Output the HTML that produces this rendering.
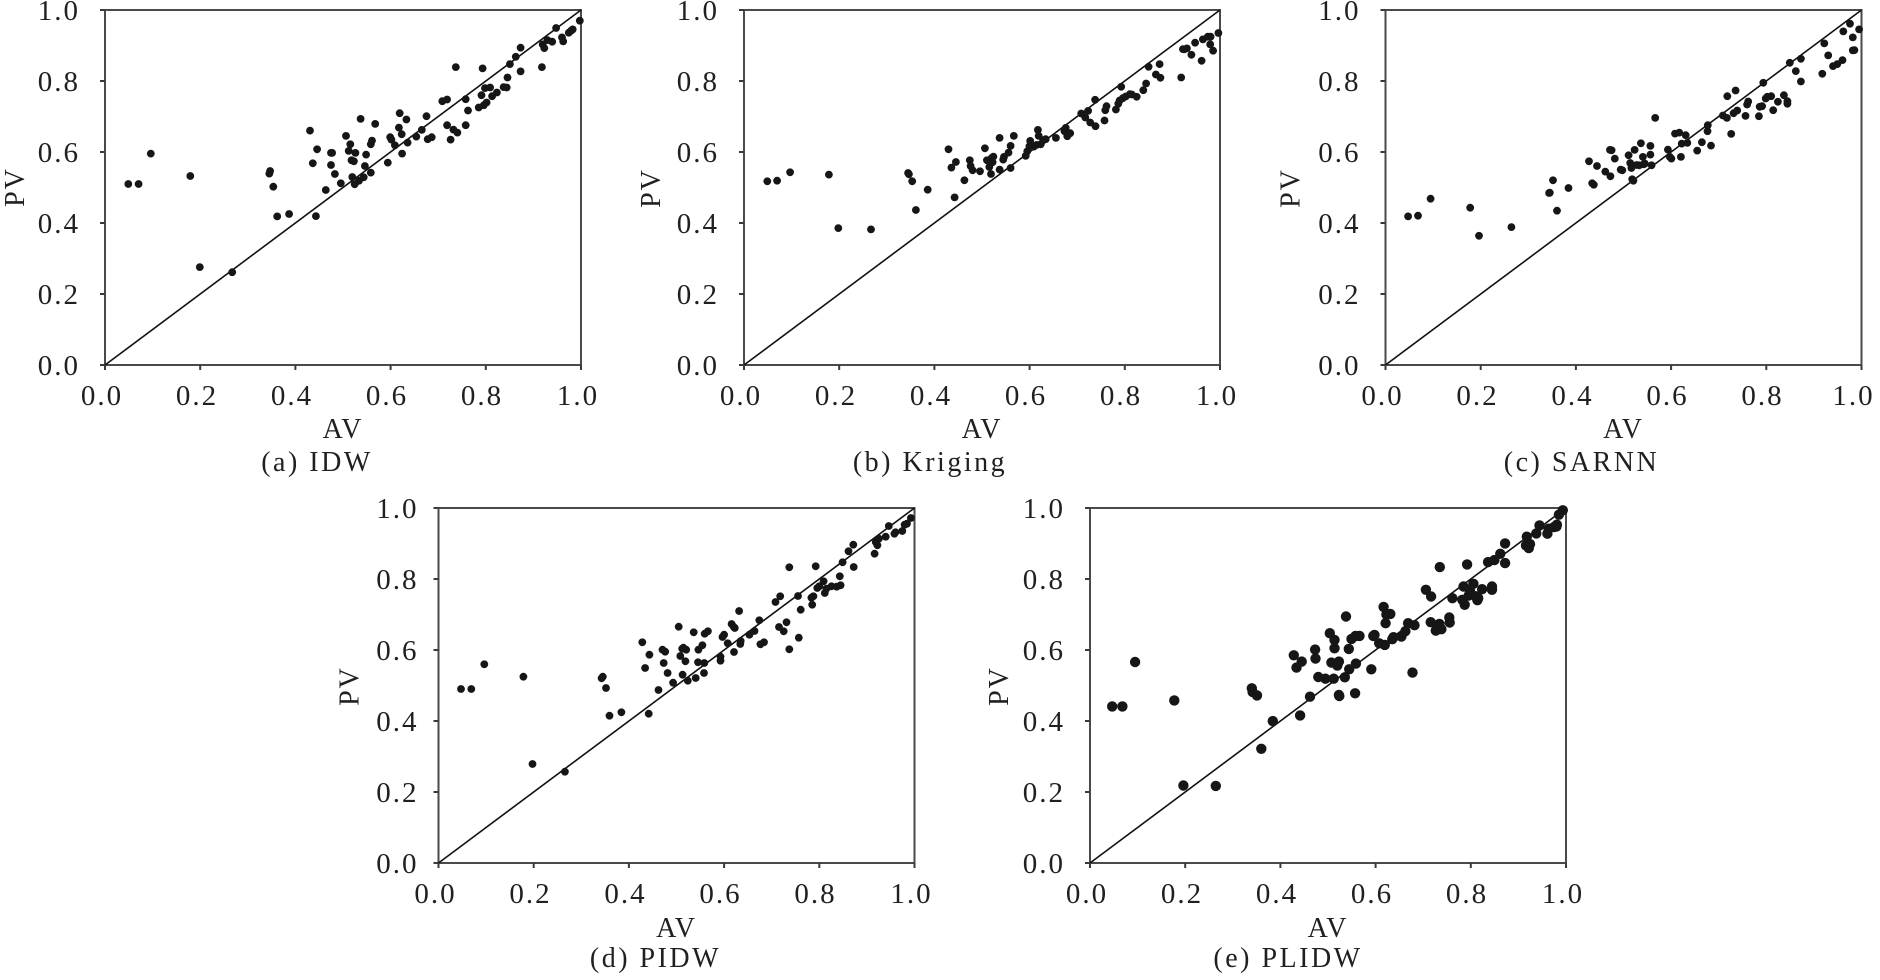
<!DOCTYPE html>
<html>
<head>
<meta charset="utf-8">
<style>
html,body{margin:0;padding:0;background:#fff;}
svg{display:block;}
text{font-family:"Liberation Serif",serif;fill:#231f20;}
.tk{font-size:29px;letter-spacing:2px;}
.lab{font-size:28px;letter-spacing:2px;}
.cap{font-size:28px;letter-spacing:2.5px;}
.ax{fill:none;stroke:#4a4a4a;stroke-width:2;}
.tick{stroke:#3a3a3a;stroke-width:2;}
.diag{stroke:#111;stroke-width:1.6;}
</style>
</head>
<body>
<svg id="root" width="1880" height="980" viewBox="0 0 1880 980" xmlns="http://www.w3.org/2000/svg">
<rect width="1880" height="980" fill="#fff"/>

<!-- Panel a -->
<g id="pa" transform="translate(105,10)">
<rect class="ax" x="0" y="0" width="476" height="355"/>
<line class="diag" x1="0" y1="355" x2="476" y2="0"/>
<g class="tick"><line x1="0" y1="355" x2="0" y2="360"/><line x1="95.2" y1="355" x2="95.2" y2="360"/><line x1="190.4" y1="355" x2="190.4" y2="360"/><line x1="285.6" y1="355" x2="285.6" y2="360"/><line x1="380.8" y1="355" x2="380.8" y2="360"/><line x1="476" y1="355" x2="476" y2="360"/>
<line x1="-5" y1="355" x2="0" y2="355"/><line x1="-5" y1="284" x2="0" y2="284"/><line x1="-5" y1="213" x2="0" y2="213"/><line x1="-5" y1="142" x2="0" y2="142"/><line x1="-5" y1="71" x2="0" y2="71"/><line x1="-5" y1="0" x2="0" y2="0"/></g>
<g class="tk" text-anchor="end"><text x="-25" y="365">0.0</text><text x="-25" y="294">0.2</text><text x="-25" y="223">0.4</text><text x="-25" y="152">0.6</text><text x="-25" y="81">0.8</text><text x="-25" y="10">1.0</text></g>
<g class="tk" text-anchor="middle"><text x="-3" y="395">0.0</text><text x="92" y="395">0.2</text><text x="187" y="395">0.4</text><text x="282" y="395">0.6</text><text x="377" y="395">0.8</text><text x="473" y="395">1.0</text></g>
<text class="lab" x="238" y="428" text-anchor="middle">AV</text>
<text class="lab" transform="translate(-81,177) rotate(-90)" text-anchor="middle">PV</text>
<text class="cap" x="212" y="461" text-anchor="middle">(a) IDW</text>
<g class="dots"></g>
</g>

<!-- Panel b -->
<g id="pb" transform="translate(744,10)">
<rect class="ax" x="0" y="0" width="476" height="355"/>
<line class="diag" x1="0" y1="355" x2="476" y2="0"/>
<g class="tick"><line x1="0" y1="355" x2="0" y2="360"/><line x1="95.2" y1="355" x2="95.2" y2="360"/><line x1="190.4" y1="355" x2="190.4" y2="360"/><line x1="285.6" y1="355" x2="285.6" y2="360"/><line x1="380.8" y1="355" x2="380.8" y2="360"/><line x1="476" y1="355" x2="476" y2="360"/>
<line x1="-5" y1="355" x2="0" y2="355"/><line x1="-5" y1="284" x2="0" y2="284"/><line x1="-5" y1="213" x2="0" y2="213"/><line x1="-5" y1="142" x2="0" y2="142"/><line x1="-5" y1="71" x2="0" y2="71"/><line x1="-5" y1="0" x2="0" y2="0"/></g>
<g class="tk" text-anchor="end"><text x="-25" y="365">0.0</text><text x="-25" y="294">0.2</text><text x="-25" y="223">0.4</text><text x="-25" y="152">0.6</text><text x="-25" y="81">0.8</text><text x="-25" y="10">1.0</text></g>
<g class="tk" text-anchor="middle"><text x="-3" y="395">0.0</text><text x="92" y="395">0.2</text><text x="187" y="395">0.4</text><text x="282" y="395">0.6</text><text x="377" y="395">0.8</text><text x="473" y="395">1.0</text></g>
<text class="lab" x="238" y="428" text-anchor="middle">AV</text>
<text class="lab" transform="translate(-84,178) rotate(-90)" text-anchor="middle">PV</text>
<text class="cap" x="186" y="461" text-anchor="middle">(b) Kriging</text>
<g class="dots"></g>
</g>

<!-- Panel c -->
<g id="pc" transform="translate(1385.5,10)">
<rect class="ax" x="0" y="0" width="476" height="355"/>
<line class="diag" x1="0" y1="355" x2="476" y2="0"/>
<g class="tick"><line x1="0" y1="355" x2="0" y2="360"/><line x1="95.2" y1="355" x2="95.2" y2="360"/><line x1="190.4" y1="355" x2="190.4" y2="360"/><line x1="285.6" y1="355" x2="285.6" y2="360"/><line x1="380.8" y1="355" x2="380.8" y2="360"/><line x1="476" y1="355" x2="476" y2="360"/>
<line x1="-5" y1="355" x2="0" y2="355"/><line x1="-5" y1="284" x2="0" y2="284"/><line x1="-5" y1="213" x2="0" y2="213"/><line x1="-5" y1="142" x2="0" y2="142"/><line x1="-5" y1="71" x2="0" y2="71"/><line x1="-5" y1="0" x2="0" y2="0"/></g>
<g class="tk" text-anchor="end"><text x="-25" y="365">0.0</text><text x="-25" y="294">0.2</text><text x="-25" y="223">0.4</text><text x="-25" y="152">0.6</text><text x="-25" y="81">0.8</text><text x="-25" y="10">1.0</text></g>
<g class="tk" text-anchor="middle"><text x="-3" y="395">0.0</text><text x="92" y="395">0.2</text><text x="187" y="395">0.4</text><text x="282" y="395">0.6</text><text x="377" y="395">0.8</text><text x="468" y="395">1.0</text></g>
<text class="lab" x="238" y="428" text-anchor="middle">AV</text>
<text class="lab" transform="translate(-86,178) rotate(-90)" text-anchor="middle">PV</text>
<text class="cap" x="196" y="461" text-anchor="middle">(c) SARNN</text>
<g class="dots"></g>
</g>

<!-- Panel d -->
<g id="pd" transform="translate(438.5,508)">
<rect class="ax" x="0" y="0" width="476" height="355"/>
<line class="diag" x1="0" y1="355" x2="476" y2="0"/>
<g class="tick"><line x1="0" y1="355" x2="0" y2="360"/><line x1="95.2" y1="355" x2="95.2" y2="360"/><line x1="190.4" y1="355" x2="190.4" y2="360"/><line x1="285.6" y1="355" x2="285.6" y2="360"/><line x1="380.8" y1="355" x2="380.8" y2="360"/><line x1="476" y1="355" x2="476" y2="360"/>
<line x1="-5" y1="355" x2="0" y2="355"/><line x1="-5" y1="284" x2="0" y2="284"/><line x1="-5" y1="213" x2="0" y2="213"/><line x1="-5" y1="142" x2="0" y2="142"/><line x1="-5" y1="71" x2="0" y2="71"/><line x1="-5" y1="0" x2="0" y2="0"/></g>
<g class="tk" text-anchor="end"><text x="-20" y="365">0.0</text><text x="-20" y="294">0.2</text><text x="-20" y="223">0.4</text><text x="-20" y="152">0.6</text><text x="-20" y="81">0.8</text><text x="-20" y="10">1.0</text></g>
<g class="tk" text-anchor="middle"><text x="-3" y="395">0.0</text><text x="92" y="395">0.2</text><text x="187" y="395">0.4</text><text x="282" y="395">0.6</text><text x="377" y="395">0.8</text><text x="473" y="395">1.0</text></g>
<text class="lab" x="238" y="429" text-anchor="middle">AV</text>
<text class="lab" transform="translate(-80,178) rotate(-90)" text-anchor="middle">PV</text>
<text class="cap" x="217" y="459" text-anchor="middle">(d) PIDW</text>
<g class="dots"></g>
</g>

<!-- Panel e -->
<g id="pe" transform="translate(1090,508)">
<rect class="ax" x="0" y="0" width="476" height="355"/>
<line class="diag" x1="0" y1="355" x2="476" y2="0"/>
<g class="tick"><line x1="0" y1="355" x2="0" y2="360"/><line x1="95.2" y1="355" x2="95.2" y2="360"/><line x1="190.4" y1="355" x2="190.4" y2="360"/><line x1="285.6" y1="355" x2="285.6" y2="360"/><line x1="380.8" y1="355" x2="380.8" y2="360"/><line x1="476" y1="355" x2="476" y2="360"/>
<line x1="-5" y1="355" x2="0" y2="355"/><line x1="-5" y1="284" x2="0" y2="284"/><line x1="-5" y1="213" x2="0" y2="213"/><line x1="-5" y1="142" x2="0" y2="142"/><line x1="-5" y1="71" x2="0" y2="71"/><line x1="-5" y1="0" x2="0" y2="0"/></g>
<g class="tk" text-anchor="end"><text x="-25" y="365">0.0</text><text x="-25" y="294">0.2</text><text x="-25" y="223">0.4</text><text x="-25" y="152">0.6</text><text x="-25" y="81">0.8</text><text x="-25" y="10">1.0</text></g>
<g class="tk" text-anchor="middle"><text x="-3" y="395">0.0</text><text x="92" y="395">0.2</text><text x="187" y="395">0.4</text><text x="282" y="395">0.6</text><text x="377" y="395">0.8</text><text x="473" y="395">1.0</text></g>
<text class="lab" x="238" y="429" text-anchor="middle">AV</text>
<text class="lab" transform="translate(-82,178) rotate(-90)" text-anchor="middle">PV</text>
<text class="cap" x="198" y="459" text-anchor="middle">(e) PLIDW</text>
<g class="dots"></g>
</g>
</svg>

<script>
(function(){
var NS="http://www.w3.org/2000/svg";
var P={
pa:{cal:[263,1468,1093,30],r:3.9,pts:[[322,551],[348,551],[379,460],[479,527],[503,800],[585,815],[679,520],[681,512],[689,559],[699,648],[729,641],[782,391],[789,489],[797,647],[800,447],[822,569],[835,494],[835,458],[838,458],[845,521],[860,549],[873,407],[880,452],[884,432],[887,480],[889,530],[893,483],[895,552],[897,458],[906,541],[910,356],[918,531],[921,497],[924,463],[936,517],[939,421],[936,432],[947,371],[979,487],[985,411],[988,418],[997,435],[1007,382],[1009,339],[1014,402],[1015,460],[1026,358],[1029,427],[1051,409],[1065,389],[1077,348],[1080,417],[1090,411],[1117,303],[1129,298],[1129,375],[1138,418],[1145,388],[1151,201],[1155,397],[1176,297],[1176,375],[1182,331],[1209,322],[1216,285],[1219,205],[1222,315],[1225,264],[1229,307],[1238,262],[1243,288],[1255,277],[1272,261],[1280,262],[1282,232],[1288,192],[1303,170],[1315,143],[1315,214],[1369,201],[1371,133],[1375,144],[1383,120],[1395,125],[1405,84],[1420,112],[1423,124],[1437,98],[1443,92],[1447,88],[1465,62]]},
pb:{cal:[302,1468,1093,30],r:3.9,pts:[[359,543],[383,541],[415,516],[510,523],[533,683],[613,687],[704,518],[706,522],[714,543],[723,629],[752,568],[803,447],[810,502],[818,591],[821,485],[842,540],[855,480],[857,497],[862,510],[880,513],[892,444],[897,480],[903,500],[907,521],[909,473],[911,486],[913,469],[928,413],[928,508],[937,478],[939,470],[950,457],[955,437],[955,503],[963,407],[992,467],[996,453],[1001,438],[1003,422],[1012,439],[1019,434],[1022,389],[1024,407],[1029,432],[1035,420],[1041,417],[1066,413],[1087,393],[1090,383],[1094,408],[1101,399],[1128,340],[1138,352],[1145,332],[1150,367],[1163,378],[1162,299],[1185,361],[1187,330],[1190,318],[1213,328],[1219,311],[1222,301],[1226,260],[1230,294],[1237,289],[1247,282],[1252,283],[1264,290],[1280,270],[1287,250],[1293,200],[1311,223],[1320,192],[1322,233],[1373,232],[1377,147],[1380,148],[1387,145],[1398,164],[1407,128],[1423,182],[1426,118],[1438,110],[1445,110],[1444,133],[1451,152],[1464,99]]},
pc:{cal:[316,1518,1093,30],r:3.9,pts:[[373,648],[398,646],[430,595],[530,622],[552,706],[634,680],[729,578],[731,577],[739,540],[749,631],[778,563],[830,483],[838,549],[842,553],[850,497],[871,514],[883,449],[887,450],[884,528],[895,475],[910,508],[914,510],[930,465],[934,488],[937,503],[939,537],[942,541],[945,449],[950,494],[957,495],[961,429],[966,470],[968,492],[971,490],[985,463],[985,437],[988,495],[997,353],[1029,448],[1034,470],[1038,475],[1047,400],[1058,397],[1062,470],[1064,430],[1074,405],[1078,428],[1103,451],[1115,426],[1129,393],[1130,375],[1138,436],[1168,346],[1178,353],[1179,288],[1189,401],[1195,339],[1200,271],[1204,331],[1225,347],[1229,313],[1232,304],[1259,348],[1261,320],[1267,318],[1270,248],[1276,295],[1280,290],[1290,288],[1295,330],[1307,305],[1322,285],[1331,303],[1331,311],[1337,188],[1352,213],[1365,244],[1365,176],[1419,221],[1424,130],[1434,166],[1446,198],[1457,192],[1470,180],[1472,94],[1489,71],[1496,112],[1496,151],[1500,150],[1512,88]]},
pd:{cal:[273,1478,1150,85],r:3.9,pts:[[330,628],[356,628],[389,554],[488,591],[511,853],[593,876],[686,596],[689,591],[697,625],[706,708],[736,698],[789,488],[796,565],[805,702],[807,525],[830,631],[840,510],[843,550],[847,516],[853,580],[867,609],[881,441],[885,529],[890,507],[891,585],[893,504],[898,545],[900,510],[904,603],[919,458],[924,595],[930,548],[931,510],[941,497],[945,580],[946,550],[947,462],[955,455],[987,543],[987,531],[992,472],[996,465],[1005,491],[1015,433],[1020,441],[1021,517],[1023,445],[1034,394],[1037,493],[1038,484],[1060,465],[1073,454],[1085,422],[1088,494],[1097,488],[1126,367],[1135,442],[1138,350],[1147,455],[1154,428],[1161,263],[1161,509],[1183,349],[1185,474],[1190,390],[1217,354],[1219,375],[1222,350],[1228,260],[1232,325],[1237,320],[1248,305],[1251,340],[1255,327],[1268,320],[1281,321],[1289,290],[1291,317],[1296,248],[1311,215],[1323,195],[1324,262],[1377,222],[1380,188],[1384,197],[1388,177],[1405,171],[1413,139],[1427,162],[1430,158],[1447,154],[1453,135],[1459,132],[1469,115]]},
pe:{cal:[281,1484,1148,85],r:5.2,pts:[[337,679],[363,679],[395,546],[494,661],[517,916],[599,917],[690,625],[692,636],[703,646],[714,806],[743,723],[796,526],[803,563],[812,706],[816,545],[837,650],[850,509],[851,536],[858,591],[876,596],[887,460],[891,548],[897,596],[899,480],[899,505],[906,557],[910,545],[910,645],[911,648],[925,592],[928,410],[935,507],[936,568],[942,477],[951,640],[952,468],[953,551],[962,468],[992,568],[997,468],[1000,465],[1012,490],[1023,381],[1026,495],[1028,430],[1030,404],[1040,402],[1045,478],[1048,472],[1068,470],[1078,454],[1085,430],[1096,578],[1101,436],[1130,330],[1143,350],[1142,427],[1155,452],[1164,432],[1165,262],[1169,448],[1189,413],[1190,428],[1197,355],[1222,360],[1225,320],[1228,375],[1234,254],[1238,347],[1241,331],[1250,312],[1255,349],[1260,361],[1262,355],[1272,328],[1287,247],[1297,320],[1297,330],[1303,241],[1318,222],[1330,191],[1330,250],[1383,197],[1385,171],[1390,205],[1393,193],[1409,161],[1417,137],[1437,162],[1440,147],[1454,142],[1460,140],[1461,135],[1466,105],[1476,92]]}
};
for(var id in P){
  var p=P[id],c=p.cal;
  var g=document.querySelector('#'+id+' .dots');
  for(var i=0;i<p.pts.length;i++){
    var X=p.pts[i][0],Y=p.pts[i][1];
    var dx=(X-c[0])/(c[1]-c[0]), dy=(c[2]-Y)/(c[2]-c[3]);
    var e=document.createElementNS(NS,'circle');
    e.setAttribute('cx',(dx*476).toFixed(1));
    e.setAttribute('cy',(355-dy*355).toFixed(1));
    e.setAttribute('r',p.r);
    e.setAttribute('fill','#161616');
    g.appendChild(e);
  }
}
})();
</script>
</body>
</html>
